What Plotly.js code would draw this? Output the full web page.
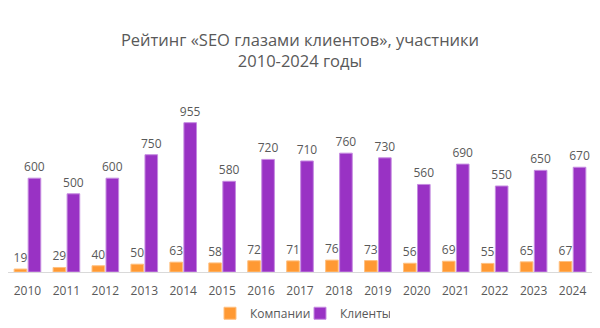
<!DOCTYPE html>
<html><head><meta charset="utf-8">
<script src="https://cdn.plot.ly/plotly-3.0.1.min.js"></script>
<style>body{margin:0;background:#fff}#c{width:600px;height:328px}</style>
</head><body><div id="c"></div>
<script>
const years = ['2010','2011','2012','2013','2014','2015','2016','2017','2018','2019','2020','2021','2022','2023','2024'];
const companies = [19,29,40,50,63,58,72,71,76,73,56,69,55,65,67];
const clients = [600,500,600,750,955,580,720,710,760,730,560,690,550,650,670];
const font = 'Open Sans, Liberation Sans, sans-serif';
const grey = '#595959';
const traces = [
  {type:'bar', name:'Компании', x:years, y:companies, text:companies.map(String), textposition:'outside', cliponaxis:false, constraintext:'none',
   marker:{color:'#FF9933', line:{color:'#FFC080', width:1}}, textfont:{family:font,size:12,color:grey}},
  {type:'bar', name:'Клиенты', x:years, y:clients, text:clients.map(String), textposition:'outside', cliponaxis:false, constraintext:'none',
   marker:{color:'#9932C4', line:{color:'#C58BE0', width:1}}, textfont:{family:font,size:12,color:grey}}
];
const layout = {
  width:600, height:328,
  margin:{l:8, r:8, t:100, b:56},
  paper_bgcolor:'#fff', plot_bgcolor:'#fff',
  title:{text:'Рейтинг «SEO глазами клиентов», участники<br>2010-2024 годы', x:0.5, xanchor:'center', yref:'container', y:0.86, yanchor:'middle',
    font:{family:font, size:16.5, color:grey}},
  barmode:'group', bargap:0.28, bargroupgap:0.1,
  xaxis:{type:'category', showline:true, linecolor:'#D9D9D9', linewidth:1, ticks:'outside', ticklen:8, tickcolor:'rgba(0,0,0,0)',
    tickfont:{family:font,size:12,color:grey}, fixedrange:true, automargin:false},
  yaxis:{range:[0,1100], visible:false, showgrid:false, zeroline:false},
  showlegend:true,
  legend:{orientation:'h', x:0.5, xanchor:'center', xref:'paper', yref:'container', y:0.045, yanchor:'middle',
    font:{family:font,size:12,color:grey}, itemwidth:30, entrywidth:45, entrywidthmode:'pixels'},
};
Plotly.newPlot('c', traces, layout, {displayModeBar:false, staticPlot:true});
</script></body></html>
